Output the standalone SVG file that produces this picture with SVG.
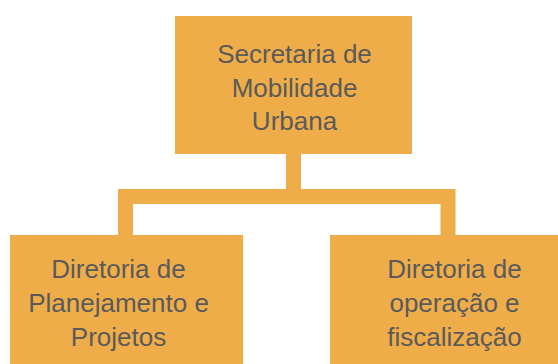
<svg xmlns="http://www.w3.org/2000/svg" width="558" height="364" viewBox="0 0 558 364">
<style>
.box{fill:#EFAD4A;}
.lbl{font-family:"Liberation Sans",Arial,sans-serif;font-size:26px;fill:#5A5A5A;text-anchor:middle;}
.conn{fill:none;stroke:#EFAD4A;stroke-width:15;stroke-linejoin:miter;}
</style>
<rect width="558" height="364" fill="#FFFFFF"/>
<g id="connectors">
<path class="conn" d="M125.5,235 V196.5 H448 V235"/>
<path class="conn" d="M293.5,154 V196.5"/>
</g>
<g id="secretaria">
<rect class="box" x="175" y="16" width="237" height="138"/>
<text class="lbl" x="294.5" y="63">Secretaria de</text>
<text class="lbl" x="294.5" y="97">Mobilidade</text>
<text class="lbl" x="294.5" y="130">Urbana</text>
</g>
<g id="planejamento">
<rect class="box" x="10" y="235" width="233" height="129"/>
<text class="lbl" x="118.5" y="278">Diretoria de</text>
<text class="lbl" x="118.5" y="312">Planejamento e</text>
<text class="lbl" x="118.5" y="346">Projetos</text>
</g>
<g id="operacao">
<rect class="box" x="330" y="235" width="228" height="129"/>
<text class="lbl" x="454.5" y="278">Diretoria de</text>
<text class="lbl" x="454.5" y="312">operação e</text>
<text class="lbl" x="454.5" y="346">fiscalização</text>
</g>
</svg>
